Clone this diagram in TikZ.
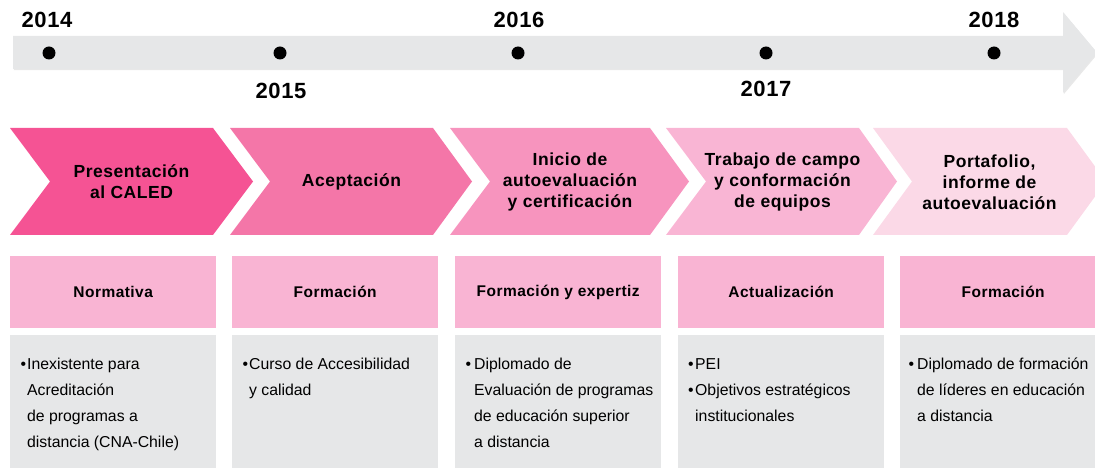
\documentclass[tikz,border=0pt]{standalone}
\usepackage{xcolor}
\usepackage{fontspec}
\setmainfont{Liberation Sans}
\newfontfamily\widefont{Liberation Sans}[LetterSpace=3]
\usepackage{tikz}
\usetikzlibrary{calc}
\usetikzlibrary{shadows}
\usetikzlibrary{positioning}
\definecolor{pinkA}{RGB}{245,83,148}
\definecolor{pinkB}{RGB}{244,118,168}
\definecolor{pinkC}{RGB}{247,148,190}
\definecolor{pinkD}{RGB}{249,181,212}
\definecolor{pinkE}{RGB}{251,217,231}
\definecolor{rosa}{RGB}{249,180,211}
\definecolor{grisbox}{RGB}{230,231,232}
\tikzstyle{year} = [draw=none, inner sep=0, anchor=base, font=\widefont\bfseries\fontsize{22}{26}\selectfont]
\tikzstyle{dot} = [circle, fill=black, inner sep=0, minimum size=13pt]
\tikzstyle{phase} = [draw=none, align=center, inner sep=0, font=\widefont\bfseries\fontsize{17.5}{21}\selectfont]
\tikzstyle{head} = [rectangle, fill=rosa, anchor=north west, inner sep=0, minimum width=206pt, minimum height=72pt, font=\widefont\bfseries\fontsize{15.5}{19}\selectfont]
\tikzstyle{gbox} = [rectangle, fill=grisbox, anchor=north west, inner sep=0, minimum width=206pt, minimum height=133pt]
\tikzstyle{body} = [draw=none, anchor=north west, inner sep=0, align=left, font=\fontsize{15.8}{26}\selectfont]

\begin{document}
\begin{tikzpicture}[x=1pt, y=-1pt]
\useasboundingbox (0,0) rectangle (1095,470);
% timeline
\fill [grisbox, drop shadow={shadow xshift=0.8pt, shadow yshift=-1.2pt, opacity=.18}]
  (13,36) -- (1063,36) -- (1063,12) -- (1097,52.5) -- (1063,93) -- (1063,69) -- (13,69) -- cycle;
\node [dot] (D1) at (49,53) {};
\node [dot] (D2) at (280,53) {};
\node [dot] (D3) at (518,53) {};
\node [dot] (D4) at (766,53) {};
\node [dot] (D5) at (994,53) {};
\node [year] (Y1) at (47,28) {2014};
\node [year] (Y2) at (281,99) {2015};
\node [year] (Y3) at (519,28) {2016};
\node [year] (Y4) at (766,97) {2017};
\node [year] (Y5) at (994,28) {2018};
% phases
\fill [pinkA] (10,128) -- (213,128) -- (253,181.5) -- (213,235) -- (10,235) -- (50,181.5) -- cycle;
\fill [pinkB] (230,128) -- (433,128) -- (472,181.5) -- (433,235) -- (230,235) -- (270,181.5) -- cycle;
\fill [pinkC] (450,128) -- (650,128) -- (689,181.5) -- (650,235) -- (450,235) -- (490,181.5) -- cycle;
\fill [pinkD] (666,128) -- (859,128) -- (897,181.5) -- (859,235) -- (666,235) -- (706,181.5) -- cycle;
\fill [pinkE] (873,128) -- (1067,128) -- (1106,181.5) -- (1067,235) -- (873,235) -- (912,181.5) -- cycle;
\node [phase] (P1) at (131.5,182) {Presentación\\al CALED};
\node [phase] (P2) at (351.5,182) {Aceptación};
\node [phase] (P3) at (570,182) {Inicio de\\autoevaluación\\y certificación};
\node [phase] (P4) at (782.5,182) {Trabajo de campo\\y conformación\\de equipos};
\node [phase] (P5) at (989.5,182) {Portafolio,\\informe de\\autoevaluación};
% headers
\node [head] (H1) at (10,256) {Normativa};
\node [head] (H2) at (232,256) {Formación};
\node [head] (H3) at (455,256) {Formación y expertiz};
\node [head] (H4) at (678,256) {Actualización};
\node [head] (H5) at (900,256) {Formación};
% contents
\node [gbox] (G1) at (10,335) {};
\node [gbox] (G2) at (232,335) {};
\node [gbox] (G3) at (455,335) {};
\node [gbox] (G4) at (678,335) {};
\node [gbox] (G5) at (900,335) {};
\node [body] (T1) at ($(G1.north west)+(17,15.8)$) {\strut\llap{•\hspace{1pt}}Inexistente para\\Acreditación\\de programas a\\distancia (CNA-Chile)};
\node [body] (T2) at ($(G2.north west)+(17,15.8)$) {\strut\llap{•\hspace{1pt}}Curso de Accesibilidad\\y calidad};
\node [body] (T3) at ($(G3.north west)+(19,15.8)$) {\strut\llap{•\hspace{3pt}}Diplomado de\\Evaluación de programas\\de educación superior\\a distancia};
\node [body] (T4) at ($(G4.north west)+(17,15.8)$) {\strut\llap{•\hspace{1.5pt}}PEI\\\llap{•\hspace{1.5pt}}Objetivos estratégicos\\institucionales};
\node [body] (T5) at ($(G5.north west)+(17,15.8)$) {\strut\llap{•\hspace{3pt}}Diplomado de formación\\de líderes en educación\\a distancia};
\end{tikzpicture}
\end{document}
